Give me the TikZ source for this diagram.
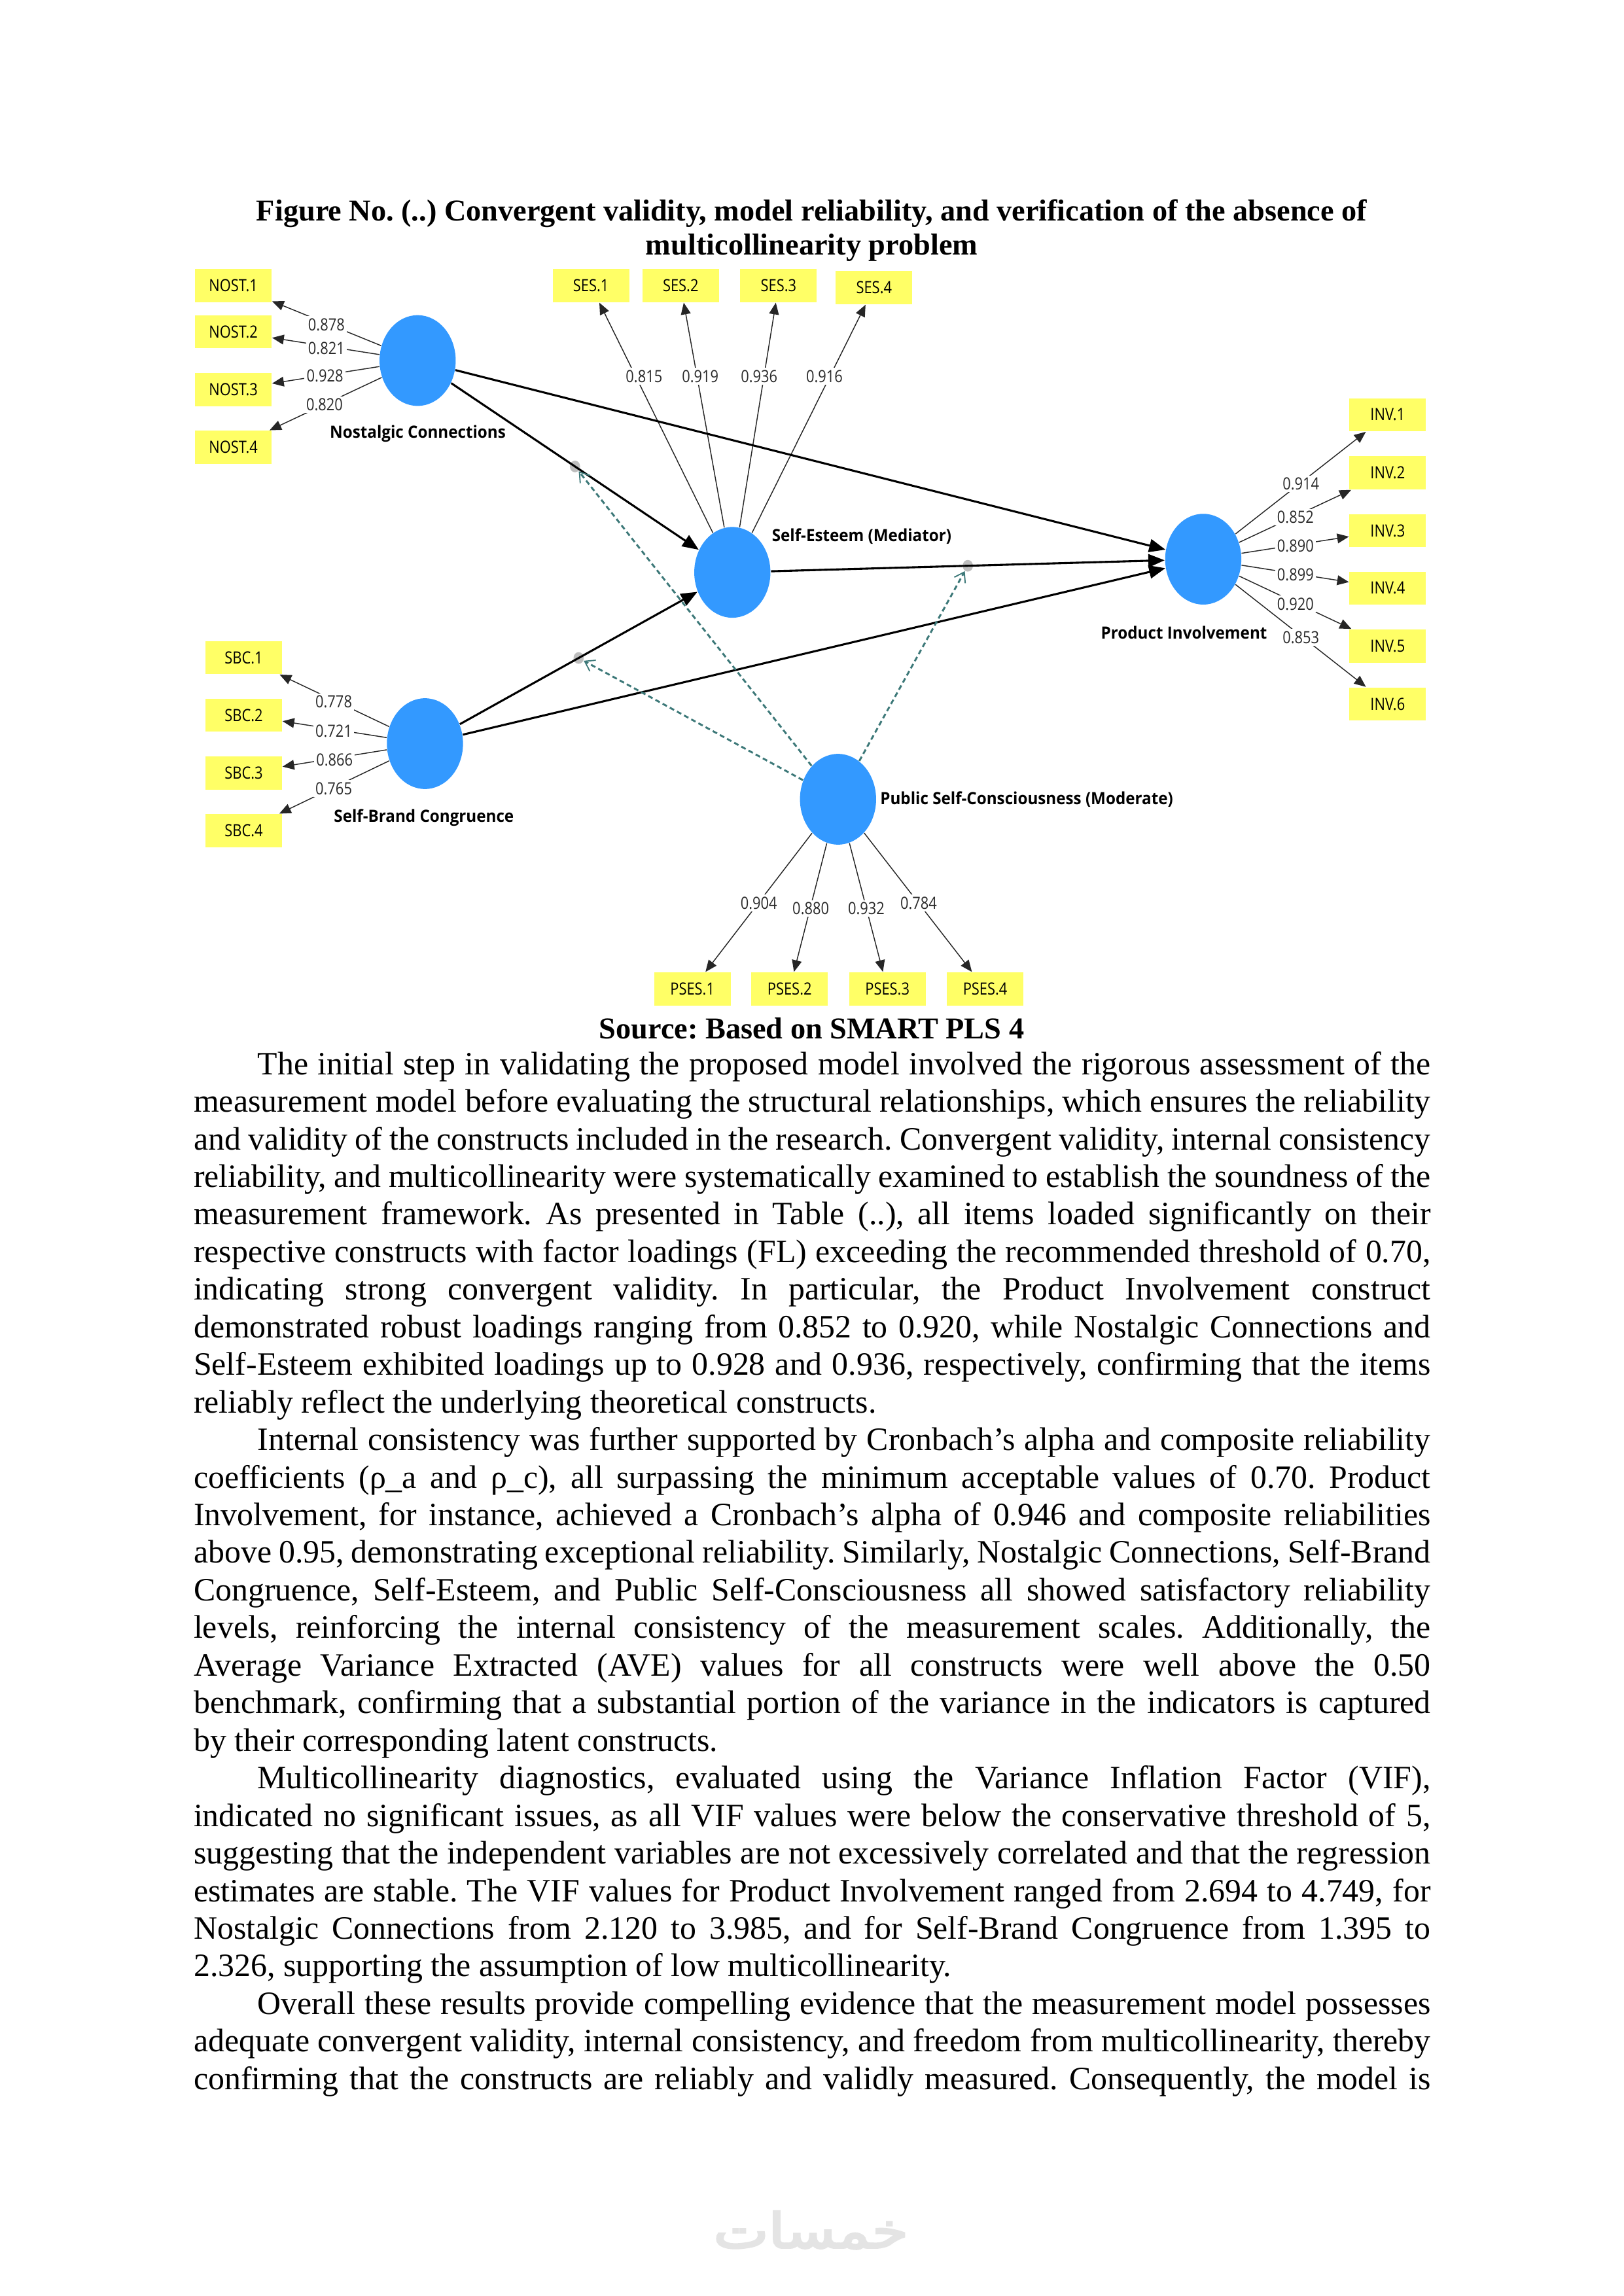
\documentclass[tikz,border=0pt]{standalone}
\usepackage{fontspec}
\setmainfont{Liberation Serif}
\newfontfamily\plsnum[FakeStretch=0.85]{Open Sans}
\newfontfamily\plslab[FakeStretch=0.94]{Open Sans}
\newfontfamily\wmfont[Script=Arabic,FakeBold=4]{DejaVu Sans}
\TeXXeTstate=1
\frenchspacing
\usetikzlibrary{shapes.geometric,arrows.meta,calc}
\definecolor{plsblue}{HTML}{3399FF}
\definecolor{plsyellow}{HTML}{FFFF66}
\definecolor{plsteal}{HTML}{3C7878}
\definecolor{plsdot}{HTML}{BEBEBE}
\definecolor{wmgray}{HTML}{E4E4E4}
\definecolor{numgray}{HTML}{2A2A2A}
\tikzset{
  latent/.style={ellipse, fill=plsblue, draw=none, minimum width=0.985cm, minimum height=1.174cm, inner sep=0pt},
  indic/.style={rectangle, fill=plsyellow, draw=none, minimum width=0.99cm, minimum height=0.428cm, inner sep=0pt, font=\plsnum\fontsize{6.2pt}{7pt}\selectfont, text=black},
  ldg/.style={fill=white, inner sep=0.8pt, font=\plsnum\fontsize{6.2pt}{7pt}\selectfont, text=numgray},
  cname/.style={font=\plslab\bfseries\fontsize{6.2pt}{7pt}\selectfont, inner sep=0pt, anchor=west, text=black},
  loadline/.style={draw=black!85, line width=0.35pt, -{Triangle[length=4.3pt,width=3.6pt]}},
  spath/.style={draw=black, line width=0.75pt, -{Triangle[length=6pt,width=4.8pt]}},
  modline/.style={draw=plsteal, line width=0.7pt, dash pattern=on 1.8pt off 1.2pt, -{Straight Barb[length=3.4pt,width=4.6pt,line width=0.45pt]}},
  mdot/.style={ellipse, fill=plsdot, draw=none, minimum width=0.133cm, minimum height=0.151cm, inner sep=0pt},
  bodytxt/.style={anchor=base west, inner sep=0pt, font=\frenchspacing\fontsize{12pt}{13.8pt}\selectfont},
  headtxt/.style={anchor=base, inner sep=0pt, font=\frenchspacing\bfseries\fontsize{11.15pt}{12.8pt}\selectfont}
}
\begin{document}
\begin{tikzpicture}[x=0.018936cm, y=-0.018936cm]
\fill[white] (0,0) rectangle (1109,1568.5);
\useasboundingbox (0,0) rectangle (1109,1568.5);

% ---------- title ----------
\node[headtxt] (t1) at (554.5,151) {Figure No. (..) Convergent validity, model reliability, and verification of the absence of};
\node[headtxt] (t2) at (554.5,174.3) {multicollinearity problem};

% ---------- latent variables ----------
\node[latent] (NC) at (285.3,246.3) {};
\node[latent] (SE) at (500.3,391) {};
\node[latent] (PI) at (822,382) {};
\node[latent] (SBC) at (290.3,508) {};
\node[latent] (PSC) at (572.5,546) {};

\node[cname] (nNC) at (225,296.3) {Nostalgic Connections};
\node[cname] (nSE) at (527,366.5) {Self-Esteem (Mediator)};
\node[cname] (nPI) at (751.8,432) {Product Involvement};
\node[cname] (nSBC) at (227.8,558.8) {Self-Brand Congruence};
\node[cname] (nPSC) at (601,546) {Public Self-Consciousness (Moderate)};

% ---------- indicators ----------
\node[indic] (nost1) at (159.4,195) {NOST.1};
\node[indic] (nost2) at (159.4,226.6) {NOST.2};
\node[indic] (nost3) at (159.4,266.1) {NOST.3};
\node[indic] (nost4) at (159.4,305.6) {NOST.4};

\node[indic] (ses1) at (403.7,195.1) {SES.1};
\node[indic] (ses2) at (465,195.1) {SES.2};
\node[indic] (ses3) at (531.9,195.1) {SES.3};
\node[indic] (ses4) at (597.1,196.5) {SES.4};

\node[indic] (inv1) at (948,283.3) {INV.1};
\node[indic] (inv2) at (948,323) {INV.2};
\node[indic] (inv3) at (948,362.5) {INV.3};
\node[indic] (inv4) at (948,401.8) {INV.4};
\node[indic] (inv5) at (948,441.3) {INV.5};
\node[indic] (inv6) at (948,480.9) {INV.6};

\node[indic] (sbc1) at (166.5,449.2) {SBC.1};
\node[indic] (sbc2) at (166.5,488.5) {SBC.2};
\node[indic] (sbc3) at (166.5,528) {SBC.3};
\node[indic] (sbc4) at (166.5,567.5) {SBC.4};

\node[indic] (pses1) at (473,675.6) {PSES.1};
\node[indic] (pses2) at (539.4,675.6) {PSES.2};
\node[indic] (pses3) at (606.2,675.6) {PSES.3};
\node[indic] (pses4) at (673,675.6) {PSES.4};

% ---------- loading connectors ----------
\foreach \b in {nost1,nost2,nost3,nost4} \draw[loadline] (NC) -- (\b);
\foreach \b in {ses1,ses2,ses3,ses4} \draw[loadline] (SE) -- (\b);
\foreach \b in {inv1,inv2,inv3,inv4,inv5,inv6} \draw[loadline] (PI) -- (\b);
\foreach \b in {sbc1,sbc2,sbc3,sbc4} \draw[loadline] (SBC) -- (\b);
\foreach \b in {pses1,pses2,pses3,pses4} \draw[loadline] (PSC) -- (\b);

% ---------- moderation points ----------
\node[mdot] (m1) at ($(NC)!0.5!(SE)$) {};
\node[mdot] (m2) at ($(SBC)!0.5!(SE)$) {};
\node[mdot] (m3) at ($(SE)!0.5!(PI)$) {};

% ---------- structural paths ----------
\draw[spath] (NC) -- (SE);
\draw[spath] (NC) -- (PI);
\draw[spath] (SE) -- (PI);
\draw[spath] (SBC) -- (SE);
\draw[spath] (SBC) -- (PI);

% ---------- moderating effects ----------
\draw[modline] (PSC) -- (m1);
\draw[modline] (PSC) -- (m2);
\draw[modline] (PSC) -- (m3);

% ---------- loading values ----------
\node[ldg] (lnost1) at (223,221.7) {0.878};
\node[ldg] (lnost2) at (223,238) {0.821};
\node[ldg] (lnost3) at (222,256.7) {0.928};
\node[ldg] (lnost4) at (221.7,276.5) {0.820};
\node[ldg] (lses1) at (440,257) {0.815};
\node[ldg] (lses2) at (478.4,257) {0.919};
\node[ldg] (lses3) at (518.6,257) {0.936};
\node[ldg] (lses4) at (563.2,257) {0.916};
\node[ldg] (linv1) at (888.7,330.6) {0.914};
\node[ldg] (linv2) at (885,353.4) {0.852};
\node[ldg] (linv3) at (885,373) {0.890};
\node[ldg] (linv4) at (885,392.6) {0.899};
\node[ldg] (linv5) at (885,412.7) {0.920};
\node[ldg] (linv6) at (888.7,435.4) {0.853};
\node[ldg] (lsbc1) at (228,479.5) {0.778};
\node[ldg] (lsbc2) at (228,499.3) {0.721};
\node[ldg] (lsbc3) at (228.5,519) {0.866};
\node[ldg] (lsbc4) at (228,538.7) {0.765};
\node[ldg] (lpses1) at (518.4,616.9) {0.904};
\node[ldg] (lpses2) at (553.9,620.6) {0.880};
\node[ldg] (lpses3) at (591.8,620.6) {0.932};
\node[ldg] (lpses4) at (627.6,616.9) {0.784};

% ---------- source ----------
\node[headtxt] (src) at (554.5,709.5) {Source: Based on SMART PLS 4};

% ---------- body text ----------
\node[bodytxt] (b01) at (175.6,734) {\makebox[15.174cm][s]{The initial step in validating the proposed model involved the rigorous assessment of the}};
\node[bodytxt] (b02) at (132,759.68) {\makebox[16cm][s]{measurement model before evaluating the structural relationships, which ensures the reliability}};
\node[bodytxt] (b03) at (132,785.36) {\makebox[16cm][s]{and validity of the constructs included in the research. Convergent validity, internal consistency}};
\node[bodytxt] (b04) at (132,811.04) {\makebox[16cm][s]{reliability, and multicollinearity were systematically examined to establish the soundness of the}};
\node[bodytxt] (b05) at (132,836.72) {\makebox[16cm][s]{measurement framework. As presented in Table (..), all items loaded significantly on their}};
\node[bodytxt] (b06) at (132,862.4) {\makebox[16cm][s]{respective constructs with factor loadings (FL) exceeding the recommended threshold of 0.70,}};
\node[bodytxt] (b07) at (132,888.08) {\makebox[16cm][s]{indicating strong convergent validity. In particular, the Product Involvement construct}};
\node[bodytxt] (b08) at (132,913.76) {\makebox[16cm][s]{demonstrated robust loadings ranging from 0.852 to 0.920, while Nostalgic Connections and}};
\node[bodytxt] (b09) at (132,939.44) {\makebox[16cm][s]{Self-Esteem exhibited loadings up to 0.928 and 0.936, respectively, confirming that the items}};
\node[bodytxt] (b10) at (132,965.12) {reliably reflect the underlying theoretical constructs.};

\node[bodytxt] (b11) at (175.6,990.8) {\makebox[15.174cm][s]{Internal consistency was further supported by Cronbach’s alpha and composite reliability}};
\node[bodytxt] (b12) at (132,1016.48) {\makebox[16cm][s]{coefficients (ρ\_a and ρ\_c), all surpassing the minimum acceptable values of 0.70. Product}};
\node[bodytxt] (b13) at (132,1042.16) {\makebox[16cm][s]{Involvement, for instance, achieved a Cronbach’s alpha of 0.946 and composite reliabilities}};
\node[bodytxt] (b14) at (132,1067.84) {\makebox[16cm][s]{above 0.95, demonstrating exceptional reliability. Similarly, Nostalgic Connections, Self-Brand}};
\node[bodytxt] (b15) at (132,1093.52) {\makebox[16cm][s]{Congruence, Self-Esteem, and Public Self-Consciousness all showed satisfactory reliability}};
\node[bodytxt] (b16) at (132,1119.2) {\makebox[16cm][s]{levels, reinforcing the internal consistency of the measurement scales. Additionally, the}};
\node[bodytxt] (b17) at (132,1144.88) {\makebox[16cm][s]{Average Variance Extracted (AVE) values for all constructs were well above the 0.50}};
\node[bodytxt] (b18) at (132,1170.56) {\makebox[16cm][s]{benchmark, confirming that a substantial portion of the variance in the indicators is captured}};
\node[bodytxt] (b19) at (132,1196.24) {by their corresponding latent constructs.};

\node[bodytxt] (b20) at (175.6,1221.92) {\makebox[15.174cm][s]{Multicollinearity diagnostics, evaluated using the Variance Inflation Factor (VIF),}};
\node[bodytxt] (b21) at (132,1247.6) {\makebox[16cm][s]{indicated no significant issues, as all VIF values were below the conservative threshold of 5,}};
\node[bodytxt] (b22) at (132,1273.28) {\makebox[16cm][s]{suggesting that the independent variables are not excessively correlated and that the regression}};
\node[bodytxt] (b23) at (132,1298.96) {\makebox[16cm][s]{estimates are stable. The VIF values for Product Involvement ranged from 2.694 to 4.749, for}};
\node[bodytxt] (b24) at (132,1324.64) {\makebox[16cm][s]{Nostalgic Connections from 2.120 to 3.985, and for Self-Brand Congruence from 1.395 to}};
\node[bodytxt] (b25) at (132,1350.32) {2.326, supporting the assumption of low multicollinearity.};

\node[bodytxt] (b26) at (175.6,1376) {\makebox[15.174cm][s]{Overall these results provide compelling evidence that the measurement model possesses}};
\node[bodytxt] (b27) at (132,1401.68) {\makebox[16cm][s]{adequate convergent validity, internal consistency, and freedom from multicollinearity, thereby}};
\node[bodytxt] (b28) at (132,1427.36) {\makebox[16cm][s]{confirming that the constructs are reliably and validly measured. Consequently, the model is}};

% ---------- watermark ----------
\node[text=wmgray, inner sep=0pt] (wm) at (554,1523.5) {\resizebox*{2.52cm}{0.49cm}{\wmfont\beginR خمسات\endR}};
\end{tikzpicture}
\end{document}
